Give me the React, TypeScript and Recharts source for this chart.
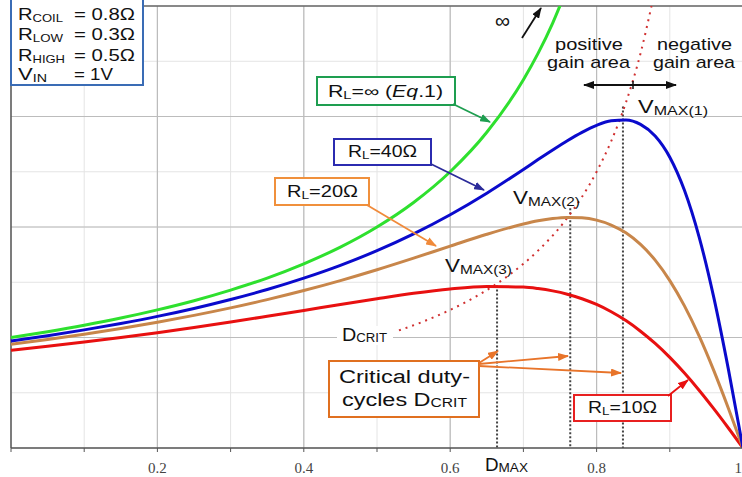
import React from 'react';
import { LineChart, Line, XAxis, YAxis, CartesianGrid, ReferenceLine } from 'recharts';

// duty cycle samples and read-off voltage gains (V_IN = 1V)
const DUTY = [0, 0.05, 0.1, 0.15, 0.2, 0.25, 0.3, 0.35, 0.4, 0.45, 0.5, 0.55, 0.6, 0.65, 0.7, 0.72, 0.74, 0.76, 0.78, 0.8, 0.82, 0.84, 0.86, 0.88, 0.9, 0.92, 0.94, 0.96, 0.98, 1];
const GAIN_INF = [1.0, 1.053, 1.111, 1.176, 1.25, 1.333, 1.429, 1.538, 1.667, 1.818, 2.0, 2.222, 2.5, 2.857, 3.333, 3.571, 3.846, 4.167];
const GAIN_40 = [0.969, 1.016, 1.069, 1.127, 1.191, 1.263, 1.344, 1.434, 1.537, 1.653, 1.786, 1.938, 2.111, 2.306, 2.521, 2.61, 2.697, 2.781, 2.857, 2.92, 2.961, 2.969, 2.929, 2.824, 2.632, 2.332, 1.911, 1.365, 0.714, 0];
const GAIN_20 = [0.939, 0.982, 1.03, 1.081, 1.138, 1.2, 1.268, 1.343, 1.425, 1.515, 1.613, 1.718, 1.827, 1.934, 2.027, 2.056, 2.077, 2.087, 2.083, 2.062, 2.018, 1.947, 1.842, 1.7, 1.515, 1.286, 1.014, 0.702, 0.36, 0];
const GAIN_10 = [0.885, 0.921, 0.96, 1.001, 1.044, 1.091, 1.14, 1.192, 1.245, 1.299, 1.351, 1.4, 1.439, 1.461, 1.456, 1.443, 1.422, 1.392, 1.351, 1.299, 1.233, 1.153, 1.057, 0.946, 0.82, 0.678, 0.523, 0.356, 0.181, 0];

// critical duty-cycle locus (dotted red)
const DCRIT_DUTY = [0.53, 0.56, 0.6, 0.64, 0.68, 0.72, 0.76, 0.8, 0.82, 0.84, 0.86, 0.875];
const DCRIT_GAIN = [1.064, 1.136, 1.25, 1.389, 1.563, 1.786, 2.083, 2.5, 2.778, 3.125, 3.571, 4.0];

// V_MAX markers (dotted verticals)
const VMAX_DUTY = [0.836, 0.764, 0.664];
const VMAX_TOP = [3.09, 2.17, 1.47];

const X_TICKS = [0, 0.1, 0.2, 0.3, 0.4, 0.5, 0.6, 0.7, 0.8, 0.9, 1];
const Y_TICKS = [0, 0.5, 1, 1.5, 2, 2.5, 3, 3.5, 4];
const X_MAJOR = [0.2, 0.4, 0.6, 0.8];
const Y_MAJOR = [1, 2, 3];

const rows = DUTY.map((d, i) => ({ d, inf: GAIN_INF[i], rl40: GAIN_40[i], rl20: GAIN_20[i], rl10: GAIN_10[i] }));
const dcrit = DCRIT_DUTY.map((d, i) => ({ d, g: DCRIT_GAIN[i] }));

const SANS = 'Liberation Sans, Arial, sans-serif';

const fmtTick = (v: number) => {
  const k = Math.round(v * 10);
  if (k === 0 || k % 2 !== 0) return '';
  return k === 10 ? '1' : (k / 10).toFixed(1);
};

const XTick = ({ x, y, payload }: any) => {
  const label = fmtTick(payload.value);
  if (!label) return null;
  const last = label === '1';
  return (
    <text x={last ? x - 1 : x} y={y} dy="0.71em" textAnchor={last ? 'end' : 'middle'} fill="#444" fontSize={15} fontFamily="Liberation Serif, serif">
      {label}
    </text>
  );
};

const ARROWS = [
  { id: 'g', c: '#1e9e50', x1: 453, y1: 104, x2: 490, y2: 122 },
  { id: 'b', c: '#2b2b9a', x1: 431, y1: 164, x2: 484, y2: 190 },
  { id: 'o', c: '#f08a3a', x1: 367, y1: 205, x2: 436, y2: 246 },
  { id: 'c', c: '#e8742a', x1: 479, y1: 363, x2: 498, y2: 351 },
  { id: 'c', c: '#e8742a', x1: 479, y1: 364, x2: 568, y2: 356 },
  { id: 'c', c: '#e8742a', x1: 479, y1: 366, x2: 621, y2: 373 },
  { id: 'r', c: '#e81010', x1: 668, y1: 396, x2: 688, y2: 380 },
  { id: 'k', c: '#111', x1: 522, y1: 38, x2: 541, y2: 8 },
];

const Overlay = () => (
  <svg width={742} height={477} style={{ position: 'absolute', left: 0, top: 0, pointerEvents: 'none' }} fontFamily={SANS}>
    <defs>
      {['g:#1e9e50', 'b:#2b2b9a', 'o:#f08a3a', 'c:#e8742a', 'r:#e81010', 'k:#111'].map((s) => {
        const [id, c] = s.split(':');
        return (
          <marker key={id} id={`ah-${id}`} markerWidth={11} markerHeight={8} refX={10} refY={4} orient="auto-start-reverse" markerUnits="userSpaceOnUse">
            <path d="M0,0 L11,4 L0,8 z" fill={c} />
          </marker>
        );
      })}
    </defs>

    {/* parameter box */}
    <rect x={11} y={-2} width={132} height={87} fill="#fff" stroke="#3a6cb5" strokeWidth={2} />
    <g fontSize={17} fill="#111">
      <text x={18} y={20} textLength={45} lengthAdjust="spacingAndGlyphs">R<tspan fontSize={11} dy={2}>COIL</tspan></text>
      <text x={74} y={20} textLength={61} lengthAdjust="spacingAndGlyphs">= 0.8Ω</text>
      <text x={18} y={40} textLength={45} lengthAdjust="spacingAndGlyphs">R<tspan fontSize={11} dy={2}>LOW</tspan></text>
      <text x={74} y={40} textLength={61} lengthAdjust="spacingAndGlyphs">= 0.3Ω</text>
      <text x={18} y={61} textLength={47} lengthAdjust="spacingAndGlyphs">R<tspan fontSize={11} dy={2}>HIGH</tspan></text>
      <text x={74} y={61} textLength={61} lengthAdjust="spacingAndGlyphs">= 0.5Ω</text>
      <text x={18} y={80} textLength={29} lengthAdjust="spacingAndGlyphs">V<tspan fontSize={11} dy={2}>IN</tspan></text>
      <text x={74} y={80} textLength={39} lengthAdjust="spacingAndGlyphs">= 1V</text>
    </g>

    {/* curve labels */}
    <rect x={317} y={77} width={138} height={28} fill="#fff" stroke="#1e9e50" strokeWidth={2} />
    <text x={328} y={97} fontSize={16} fill="#111" textLength={115} lengthAdjust="spacingAndGlyphs">
      R<tspan fontSize={11} dy={2}>L</tspan><tspan dy={-2}>=∞ (</tspan><tspan fontStyle="italic">Eq</tspan>.1)
    </text>
    <rect x={334} y={139} width={97} height={26} fill="#fff" stroke="#2b2bb0" strokeWidth={2} />
    <text x={348} y={157} fontSize={16} fill="#111" textLength={69} lengthAdjust="spacingAndGlyphs">
      R<tspan fontSize={11} dy={2}>L</tspan><tspan dy={-2}>=40Ω</tspan>
    </text>
    <rect x={275} y={178} width={94} height={27} fill="#fff" stroke="#f0903c" strokeWidth={2} />
    <text x={287} y={197} fontSize={16} fill="#111" textLength={71} lengthAdjust="spacingAndGlyphs">
      R<tspan fontSize={11} dy={2}>L</tspan><tspan dy={-2}>=20Ω</tspan>
    </text>
    <rect x={574} y={395} width={97} height={26} fill="#fff" stroke="#e82020" strokeWidth={2} />
    <text x={588} y={413} fontSize={16} fill="#111" textLength={69} lengthAdjust="spacingAndGlyphs">
      R<tspan fontSize={11} dy={2}>L</tspan><tspan dy={-2}>=10Ω</tspan>
    </text>

    <rect x={329} y={361} width={150} height={56} fill="#fff" stroke="#e07020" strokeWidth={2} />
    <text x={339} y={383} fontSize={18} fill="#111" textLength={131} lengthAdjust="spacingAndGlyphs">Critical duty-</text>
    <text x={342} y={406} fontSize={18} fill="#111" textLength={125} lengthAdjust="spacingAndGlyphs">
      cycles D<tspan fontSize={12} dy={1}>CRIT</tspan>
    </text>

    {/* point labels */}
    <rect x={337} y={326} width={56} height={19} fill="#fff" />
    <text x={342} y={341} fontSize={18} fill="#111" textLength={45} lengthAdjust="spacingAndGlyphs">
      D<tspan fontSize={12} dy={1}>CRIT</tspan>
    </text>
    <text x={445} y={272} fontSize={19} fill="#111" textLength={67} lengthAdjust="spacingAndGlyphs">
      V<tspan fontSize={13} dy={2}>MAX(3)</tspan>
    </text>
    <text x={513} y={204} fontSize={19} fill="#111" textLength={67} lengthAdjust="spacingAndGlyphs">
      V<tspan fontSize={13} dy={2}>MAX(2)</tspan>
    </text>
    <text x={638} y={113} fontSize={19} fill="#111" textLength={70} lengthAdjust="spacingAndGlyphs">
      V<tspan fontSize={13} dy={2}>MAX(1)</tspan>
    </text>
    <text x={485} y={471} fontSize={18} fill="#111" textLength={43} lengthAdjust="spacingAndGlyphs">
      D<tspan fontSize={13} dy={1}>MAX</tspan>
    </text>

    {/* gain area */}
    <g fontSize={17} fill="#111">
      <text x={555} y={50} textLength={68} lengthAdjust="spacingAndGlyphs">positive</text>
      <text x={547} y={68} textLength={83} lengthAdjust="spacingAndGlyphs">gain area</text>
      <text x={657} y={50} textLength={75} lengthAdjust="spacingAndGlyphs">negative</text>
      <text x={653} y={68} textLength={82} lengthAdjust="spacingAndGlyphs">gain area</text>
    </g>
    <line x1={584} y1={85} x2={676} y2={85} stroke="#111" strokeWidth={2} markerStart="url(#ah-k)" markerEnd="url(#ah-k)" />
    <line x1={633} y1={81} x2={633} y2={89} stroke="#111" strokeWidth={1.5} />
    <text x={495} y={28} fontSize={21} fill="#111">∞</text>

    {ARROWS.map((a, i) => (
      <line key={i} x1={a.x1} y1={a.y1} x2={a.x2} y2={a.y2} stroke={a.c} strokeWidth={1.8} markerEnd={`url(#ah-${a.id})`} />
    ))}
  </svg>
);

export default function App() {
  return (
    <div style={{ position: 'absolute', left: 0, top: 0, width: 742, height: 477, overflow: 'hidden', background: '#fff' }}>
      <LineChart width={744} height={477} data={rows} margin={{ top: 6, right: 1, left: 11, bottom: 0 }}>
        <CartesianGrid stroke="#e4e4e4" strokeWidth={1} />
        <XAxis
          dataKey="d"
          type="number"
          domain={[0, 1]}
          ticks={X_TICKS}
          height={29}
          tickSize={4}
          tickMargin={10}
          axisLine={{ stroke: '#555', strokeWidth: 1.5 }}
          tickLine={{ stroke: '#555' }}
          tick={<XTick />}
          interval={0}
        />
        <YAxis hide type="number" domain={[0, 4]} ticks={Y_TICKS} allowDataOverflow />
        {X_MAJOR.map((x) => (
          <ReferenceLine key={`vx${x}`} x={x} stroke="#bcbcbc" strokeWidth={1.2} />
        ))}
        {Y_MAJOR.map((y) => (
          <ReferenceLine key={`hy${y}`} y={y} stroke="#bcbcbc" strokeWidth={1.2} />
        ))}
        <ReferenceLine x={0} stroke="#555" strokeWidth={1.5} />
        <ReferenceLine y={4} stroke="#666" strokeWidth={1.5} />
        {VMAX_DUTY.map((x, i) => (
          <ReferenceLine
            key={`vm${i}`}
            segment={[{ x, y: VMAX_TOP[i] }, { x, y: 0 }]}
            stroke="#444"
            strokeWidth={2}
            strokeDasharray="2 2"
          />
        ))}
        <Line data={dcrit} dataKey="g" type="monotone" stroke="#d03030" strokeWidth={2} strokeDasharray="2 5" dot={false} isAnimationActive={false} />
        <Line dataKey="rl10" type="monotone" stroke="#e81010" strokeWidth={3} dot={false} isAnimationActive={false} />
        <Line dataKey="rl20" type="monotone" stroke="#c8864a" strokeWidth={3} dot={false} isAnimationActive={false} />
        <Line dataKey="rl40" type="monotone" stroke="#0a0acc" strokeWidth={3} dot={false} isAnimationActive={false} />
        <Line dataKey="inf" type="monotone" stroke="#2ee02e" strokeWidth={3} dot={false} isAnimationActive={false} />
      </LineChart>
      <Overlay />
    </div>
  );
}
